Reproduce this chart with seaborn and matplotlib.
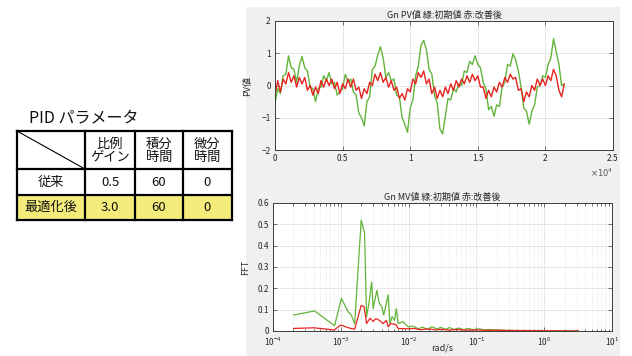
import matplotlib
matplotlib.use("Agg")
import matplotlib.pyplot as plt
from matplotlib.patches import Rectangle
from matplotlib.ticker import LogLocator, NullFormatter
import seaborn as sns

# ---- table data ----
TABLE_TITLE = "PID パラメータ"
COL_HEADERS = ["比例\nゲイン", "積分\n時間", "微分\n時間"]
ROW_LABELS = ["従来", "最適化後"]
ROW_VALUES = [["0.5", "60", "0"], ["3.0", "60", "0"]]

# ---- PV time series (sampled every 200 s) ----
PV_TIME = list(range(0, 21401, 200))
PV_GREEN = [
    -0.55, -0.1, -0.25, 0.3, 0.35, 0.92, 0.55, 0.5, 0.1, 0.62,
    0.9, 0.55, 0.45, -0.05, -0.1, -0.5, -0.1, -0.05, 0.3, 0.15,
    0.4, 0.05, 0.1, -0.3, -0.2, -0.1, 0.35, 0.1, 0.2, -0.2,
    -0.3, -0.85, -1.0, -1.25, -0.5, -0.35, 0.5, 0.6, 0.95, 1.2,
    0.85, 0.25, 0.4, 0.15, 0.2, -0.3, -0.35, -1.0, -1.2, -1.45,
    -0.7, -0.45, 0.3, 0.6, 1.25, 1.4, 1.1, 0.5, 0.35, -0.3,
    -0.55, -1.35, -1.5, -0.95, -0.4, -0.45, -0.1, -0.2, 0.05, 0.0,
    0.45, 0.4, 0.75, 0.65, 0.92, 0.65, 0.55, 0.1, -0.1, -0.75,
    -0.65, -0.95, -0.6, -0.65, -0.05, 0.1, 0.65, 0.6, 0.98, 0.8,
    0.45, -0.05, -0.7, -0.8, -1.2, -0.8, -0.6, -0.05, 0.0, 0.3,
    0.25, 0.65, 0.85, 1.45, 1.05, 0.65, 0.0, 0.05,
]
PV_RED = [
    -0.3, 0.15, -0.2, 0.2, 0.05, 0.4, 0.1, 0.3, -0.05, 0.25,
    0.05, 0.25, -0.15, 0.0, -0.3, -0.05, -0.25, 0.15, -0.05, 0.2,
    0.0, 0.2, -0.1, 0.1, -0.25, 0.05, -0.1, 0.2, -0.05, 0.2,
    -0.15, -0.05, -0.4, -0.1, -0.25, 0.1, 0.0, 0.35, 0.15, 0.4,
    0.1, 0.25, -0.05, 0.15, -0.15, -0.05, -0.4, -0.25, -0.45, -0.1,
    -0.2, 0.2, 0.05, 0.4, 0.25, 0.45, 0.05, 0.2, -0.25, -0.05,
    -0.4, -0.15, -0.35, -0.05, -0.25, 0.05, -0.15, 0.15, -0.05, 0.2,
    0.05, 0.3, 0.1, 0.35, 0.15, 0.3, -0.05, -0.05, -0.4, -0.15,
    -0.35, -0.05, -0.2, 0.1, -0.05, 0.25, 0.1, 0.35, 0.2, 0.25,
    -0.15, -0.1, -0.5, -0.2, -0.35, 0.0, -0.15, 0.2, 0.0, 0.2,
    0.0, 0.3, 0.15, 0.5, 0.3, -0.15, -0.35, 0.05,
]
PV_XTICKS = [0, 5000, 10000, 15000, 20000, 25000]
PV_XTICKLABELS = ["0", "0.5", "1", "1.5", "2", "2.5"]
PV_YTICKS = [-2, -1, 0, 1, 2]

# ---- MV FFT spectrum ----
FFT_FREQ_GREEN = [
    2e-4, 4.1e-4, 8.1e-4, 1.02e-3, 1.28e-3, 1.43e-3, 1.6e-3, 2.0e-3, 2.24e-3, 2.4e-3,
    2.6e-3, 2.85e-3, 3.0e-3, 3.4e-3, 3.7e-3, 4.0e-3, 4.3e-3, 4.7e-3, 5.0e-3, 5.3e-3,
    5.7e-3, 6.2e-3, 6.6e-3, 7.0e-3, 8.3e-3, 9.8e-3, 1.16e-2, 0.014, 0.016, 0.019,
    0.022, 0.026, 0.03, 0.035, 0.04, 0.047, 0.055, 0.065, 0.075, 0.09,
    0.11, 0.13, 0.16, 0.2, 0.3, 0.5, 1.0, 2.0, 3.2,
]
FFT_GREEN = [
    0.075, 0.094, 0.025, 0.153, 0.09, 0.075, 0.033, 0.52, 0.46, 0.067,
    0.13, 0.23, 0.105, 0.19, 0.13, 0.115, 0.075, 0.13, 0.17, 0.035,
    0.067, 0.05, 0.105, 0.035, 0.044, 0.02, 0.023, 0.01, 0.018, 0.008,
    0.02, 0.01, 0.017, 0.008, 0.016, 0.007, 0.014, 0.006, 0.012, 0.006,
    0.01, 0.005, 0.007, 0.004, 0.003, 0.002, 0.001, 0.001, 0.0,
]
FFT_FREQ_RED = [
    2e-4, 4e-4, 8e-4, 1.0e-3, 1.3e-3, 1.6e-3, 2.0e-3, 2.2e-3, 2.4e-3, 2.7e-3,
    3.0e-3, 3.3e-3, 3.7e-3, 4.2e-3, 4.7e-3, 5.0e-3, 5.5e-3, 6.5e-3, 7e-3, 1e-2,
    0.012, 0.015, 0.02, 0.025, 0.03, 0.04, 0.05, 0.07, 0.1, 0.15,
    0.2, 0.3, 0.5, 1.0, 3.2,
]
FFT_RED = [
    0.012, 0.015, 0.005, 0.028, 0.015, 0.008, 0.12, 0.115, 0.035, 0.06,
    0.045, 0.058, 0.05, 0.035, 0.05, 0.02, 0.035, 0.03, 0.012, 0.01,
    0.012, 0.006, 0.01, 0.005, 0.008, 0.004, 0.007, 0.004, 0.005, 0.003,
    0.004, 0.002, 0.002, 0.001, 0.0,
]
FFT_YTICKS = [0, 0.1, 0.2, 0.3, 0.4, 0.5, 0.6]
FFT_YTICKLABELS = ["0", "0.1", "0.2", "0.3", "0.4", "0.5", "0.6"]

GREEN = "#62b43a"
RED = "#e5231f"
FRAME = "#3c3c3c"
TEXT = "#262626"
W, H = 632, 356

sns.set_style("ticks")
plt.rcParams["font.family"] = ["Noto Sans CJK JP", "DejaVu Sans"]


def matlab_axes(ax):
    ax.set_facecolor("white")
    for side in ax.spines.values():
        side.set_color(FRAME)
        side.set_linewidth(0.7)
    ax.tick_params(which="both", direction="in", top=True, right=True,
                   colors=FRAME, labelcolor=TEXT, labelsize=6, width=0.5)
    ax.tick_params(which="major", length=3, pad=3)
    ax.tick_params(which="minor", length=1.8)
    ax.grid(which="major", color="#e2e2e2", linewidth=0.6)
    ax.set_axisbelow(True)


fig = plt.figure(figsize=(W / 100, H / 100), dpi=100)
fig.patch.set_facecolor("white")

# gray figure panel behind the two plots
bg = fig.add_axes([0, 0, 1, 1], zorder=-5)
bg.set_xlim(0, W)
bg.set_ylim(H, 0)
bg.axis("off")
bg.add_patch(Rectangle((246, 7), 374, H - 7, facecolor="#f0f0f0", edgecolor="none"))

# ---- table on the left ----
tab = fig.add_axes([0, 0, 1, 1], zorder=5)
tab.set_xlim(0, W)
tab.set_ylim(H, 0)
tab.axis("off")
xs = [17, 85, 135, 183, 232]
ys = [131, 169, 195, 220]
tab.text(29, 118, TABLE_TITLE, fontsize=11.5, va="center", ha="left", color="#111111")
tab.add_patch(Rectangle((xs[0], ys[2]), xs[-1] - xs[0], ys[3] - ys[2],
                        facecolor="#f3ec7a", edgecolor="none"))
for x in xs:
    tab.plot([x, x], [ys[0], ys[-1]], color="black", lw=1.6, solid_capstyle="projecting")
for y in ys:
    tab.plot([xs[0], xs[-1]], [y, y], color="black", lw=1.6, solid_capstyle="projecting")
tab.plot([xs[0], xs[1]], [ys[0], ys[1]], color="black", lw=0.8)
for j, head in enumerate(COL_HEADERS):
    tab.text((xs[j + 1] + xs[j + 2]) / 2, (ys[0] + ys[1]) / 2 + 1, head,
             fontsize=9.5, ha="center", va="center", linespacing=1.0, color="#111111")
for i, label in enumerate(ROW_LABELS):
    yc = (ys[i + 1] + ys[i + 2]) / 2
    tab.text((xs[0] + xs[1]) / 2, yc, label, fontsize=9.5, ha="center", va="center", color="#111111")
    for j, val in enumerate(ROW_VALUES[i]):
        tab.text((xs[j + 1] + xs[j + 2]) / 2, yc, val, fontsize=9.5,
                 ha="center", va="center", color="#111111")

# ---- top: PV time series ----
ax1 = fig.add_axes([275 / W, 1 - 150 / H, 338 / W, 129 / H])
matlab_axes(ax1)
sns.lineplot(x=PV_TIME, y=PV_GREEN, ax=ax1, color=GREEN, linewidth=1.0, estimator=None)
sns.lineplot(x=PV_TIME, y=PV_RED, ax=ax1, color=RED, linewidth=1.0, estimator=None)
ax1.set_xlim(0, 25000)
ax1.set_ylim(-2, 2)
ax1.set_xticks(PV_XTICKS)
ax1.set_xticklabels(PV_XTICKLABELS)
ax1.set_yticks(PV_YTICKS)
ax1.set_ylabel("PV値", fontsize=6.5, color=TEXT, labelpad=7)
ax1.set_title("Gn PV値 緑:初期値 赤:改善後", fontsize=6.5, color=TEXT, pad=2)
ax1.text(1.0, -0.13, r"$\times 10^{4}$", transform=ax1.transAxes, fontsize=6,
         ha="right", va="top", color="#555555")

# ---- bottom: MV FFT ----
ax2 = fig.add_axes([273 / W, 1 - 331 / H, 339 / W, 128 / H])
sns.lineplot(x=FFT_FREQ_GREEN, y=FFT_GREEN, ax=ax2, color=GREEN, linewidth=0.9, estimator=None)
sns.lineplot(x=FFT_FREQ_RED, y=FFT_RED, ax=ax2, color=RED, linewidth=0.9, estimator=None)
ax2.set_xscale("log")
matlab_axes(ax2)
ax2.grid(which="minor", color="#dadada", linewidth=0.5, linestyle=":")
ax2.set_xlim(1e-4, 10)
ax2.set_ylim(0, 0.6)
ax2.xaxis.set_major_locator(LogLocator(base=10, numticks=10))
ax2.xaxis.set_minor_locator(LogLocator(base=10, subs=range(2, 10), numticks=10))
ax2.xaxis.set_minor_formatter(NullFormatter())
ax2.set_yticks(FFT_YTICKS)
ax2.set_yticklabels(FFT_YTICKLABELS)
ax2.set_ylabel("FFT", fontsize=6.5, color=TEXT, labelpad=5)
ax2.set_xlabel("")
ax2.text(0.5, -0.135, "rad/s", transform=ax2.transAxes, fontsize=6.5,
         ha="center", va="center", color=TEXT)
ax2.set_title("Gn MV値 緑:初期値 赤:改善後", fontsize=6.5, color=TEXT, pad=2)

fig.savefig("out.png", dpi=100)
